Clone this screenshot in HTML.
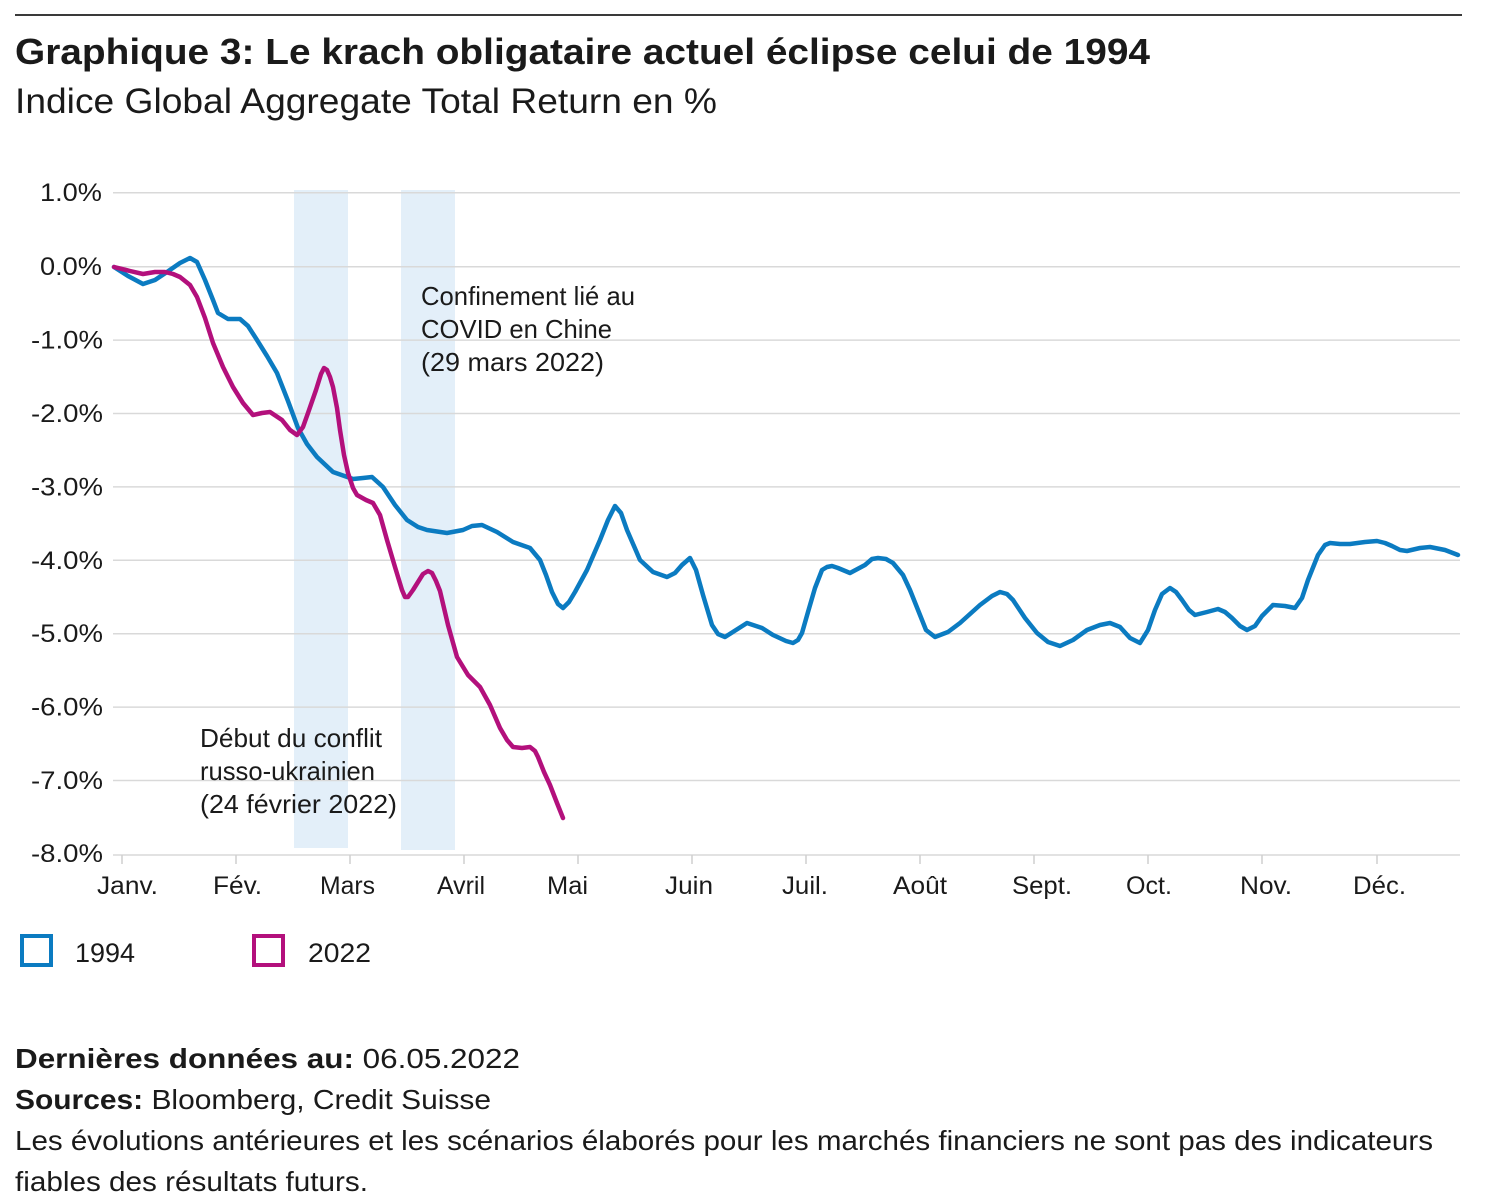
<!DOCTYPE html>
<html>
<head>
<meta charset="utf-8">
<style>
  html, body { margin: 0; padding: 0; background: #ffffff; }
  svg { display: block; }
  text { font-family: "Liberation Sans", Arial, sans-serif; fill: #1a1a1a; }
</style>
</head>
<body>
<svg width="1512" height="1200" viewBox="0 0 1512 1200" xmlns="http://www.w3.org/2000/svg">
  <rect x="0" y="0" width="1512" height="1200" fill="#ffffff"/>

  <!-- top rule -->
  <line x1="15" y1="15" x2="1462" y2="15" stroke="#3a3a3a" stroke-width="2"/>

  <!-- title + subtitle -->
  <text x="15" y="64" font-size="36" font-weight="bold" textLength="1135" lengthAdjust="spacingAndGlyphs">Graphique 3: Le krach obligataire actuel éclipse celui de 1994</text>
  <text x="15" y="113" font-size="35" textLength="702" lengthAdjust="spacingAndGlyphs">Indice Global Aggregate Total Return en %</text>

  <!-- shaded bands -->
  <rect x="294" y="190" width="54" height="658" fill="#e3eff9"/>
  <rect x="401" y="190" width="54" height="660" fill="#e3eff9"/>

  <!-- gridlines -->
  <g stroke="#d9d9d9" stroke-width="1.5">
    <line x1="113" y1="192.7" x2="1460" y2="192.7"/>
    <line x1="113" y1="266.7" x2="1460" y2="266.7"/>
    <line x1="113" y1="340.1" x2="1460" y2="340.1"/>
    <line x1="113" y1="413.5" x2="1460" y2="413.5"/>
    <line x1="113" y1="486.9" x2="1460" y2="486.9"/>
    <line x1="113" y1="560.3" x2="1460" y2="560.3"/>
    <line x1="113" y1="633.7" x2="1460" y2="633.7"/>
    <line x1="113" y1="707.1" x2="1460" y2="707.1"/>
    <line x1="113" y1="780.5" x2="1460" y2="780.5"/>
    <line x1="113" y1="855" x2="1460" y2="855"/>
  </g>
  <!-- ticks -->
  <g stroke="#cfcfcf" stroke-width="1.5">
    <line x1="122" y1="855" x2="122" y2="864"/>
    <line x1="236" y1="855" x2="236" y2="864"/>
    <line x1="350" y1="855" x2="350" y2="864"/>
    <line x1="464" y1="855" x2="464" y2="864"/>
    <line x1="578" y1="855" x2="578" y2="864"/>
    <line x1="692" y1="855" x2="692" y2="864"/>
    <line x1="806" y1="855" x2="806" y2="864"/>
    <line x1="920" y1="855" x2="920" y2="864"/>
    <line x1="1034" y1="855" x2="1034" y2="864"/>
    <line x1="1148" y1="855" x2="1148" y2="864"/>
    <line x1="1262" y1="855" x2="1262" y2="864"/>
    <line x1="1377" y1="855" x2="1377" y2="864"/>
  </g>

  <!-- y labels -->
  <g font-size="25" text-anchor="end">
    <text x="102" y="201" textLength="62" lengthAdjust="spacingAndGlyphs">1.0%</text>
    <text x="102" y="275" textLength="62" lengthAdjust="spacingAndGlyphs">0.0%</text>
    <text x="103" y="348.5" textLength="72" lengthAdjust="spacingAndGlyphs">-1.0%</text>
    <text x="103" y="422" textLength="72" lengthAdjust="spacingAndGlyphs">-2.0%</text>
    <text x="103" y="495.5" textLength="72" lengthAdjust="spacingAndGlyphs">-3.0%</text>
    <text x="103" y="569" textLength="72" lengthAdjust="spacingAndGlyphs">-4.0%</text>
    <text x="103" y="642" textLength="72" lengthAdjust="spacingAndGlyphs">-5.0%</text>
    <text x="103" y="715.5" textLength="72" lengthAdjust="spacingAndGlyphs">-6.0%</text>
    <text x="103" y="789" textLength="72" lengthAdjust="spacingAndGlyphs">-7.0%</text>
    <text x="103" y="862" textLength="72" lengthAdjust="spacingAndGlyphs">-8.0%</text>
  </g>

  <!-- x labels -->
  <g font-size="25">
    <text x="97" y="894" textLength="61" lengthAdjust="spacingAndGlyphs">Janv.</text>
    <text x="213" y="894" textLength="49" lengthAdjust="spacingAndGlyphs">Fév.</text>
    <text x="320" y="894" textLength="55" lengthAdjust="spacingAndGlyphs">Mars</text>
    <text x="437" y="894" textLength="48" lengthAdjust="spacingAndGlyphs">Avril</text>
    <text x="547" y="894" textLength="41" lengthAdjust="spacingAndGlyphs">Mai</text>
    <text x="665" y="894" textLength="48" lengthAdjust="spacingAndGlyphs">Juin</text>
    <text x="782" y="894" textLength="46" lengthAdjust="spacingAndGlyphs">Juil.</text>
    <text x="893" y="894" textLength="54" lengthAdjust="spacingAndGlyphs">Août</text>
    <text x="1012" y="894" textLength="60" lengthAdjust="spacingAndGlyphs">Sept.</text>
    <text x="1126" y="894" textLength="46" lengthAdjust="spacingAndGlyphs">Oct.</text>
    <text x="1240" y="894" textLength="52" lengthAdjust="spacingAndGlyphs">Nov.</text>
    <text x="1353" y="894" textLength="53" lengthAdjust="spacingAndGlyphs">Déc.</text>
  </g>

  <!-- annotations -->
  <g font-size="26">
    <text x="421" y="305" textLength="214" lengthAdjust="spacingAndGlyphs">Confinement lié au</text>
    <text x="421" y="338" textLength="191" lengthAdjust="spacingAndGlyphs">COVID en Chine</text>
    <text x="421" y="371" textLength="183" lengthAdjust="spacingAndGlyphs">(29 mars 2022)</text>
    <text x="200" y="747" textLength="182" lengthAdjust="spacingAndGlyphs">Début du conflit</text>
    <text x="200" y="780" textLength="175" lengthAdjust="spacingAndGlyphs">russo-ukrainien</text>
    <text x="200" y="813" textLength="197" lengthAdjust="spacingAndGlyphs">(24 février 2022)</text>
  </g>

  <!-- 1994 series -->
  <polyline fill="none" stroke="#0b7bc1" stroke-width="4.5" stroke-linejoin="round" stroke-linecap="round"
    points="114,267 128,276 143,284 155,280 167,272 180,263 190,258 197,262 205,280 213,300 218,313 228,319 240,319 248,326 257,340 267,356 277,373 288,401 298,428 307,444 317,457 333,472 353,479 363,478 372,477 383,487 395,505 407,520 418,527 427,530 447,533 463,530 472,526 482,525 497,532 513,542 530,548 540,560 546,575 552,592 558,604 563,608 569,602 575,592 587,570 600,540 608,520 615,506 621,513 627,530 640,560 653,572 667,577 675,573 682,565 690,558 696,570 703,595 712,625 718,634 725,637 736,630 747,623 762,628 773,635 786,641 793,643 798,640 802,633 808,612 815,588 822,570 827,567 832,566 838,568 850,573 865,565 872,559 878,558 886,559 893,563 903,575 910,590 918,610 926,630 935,637 948,632 960,623 980,605 992,596 1000,592 1007,594 1013,600 1025,618 1037,633 1048,642 1060,646 1073,640 1087,630 1100,625 1110,623 1120,627 1130,638 1140,643 1148,630 1155,610 1162,594 1170,588 1176,592 1182,600 1189,610 1195,615 1207,612 1218,609 1225,612 1232,618 1240,626 1247,630 1255,626 1262,616 1273,605 1285,606 1295,608 1302,598 1308,580 1318,555 1325,545 1330,543 1340,544 1350,544 1365,542 1377,541 1385,543 1392,546 1400,550 1407,551 1420,548 1430,547 1445,550 1458,555"/>

  <!-- 2022 series -->
  <polyline fill="none" stroke="#b3107c" stroke-width="4.5" stroke-linejoin="round" stroke-linecap="round"
    points="114,267 130,271 143,274 155,272 165,272 173,274 180,277 190,285 197,297 205,318 213,343 223,367 233,387 243,403 253,415 262,413 270,412 282,420 290,430 297,435 303,427 308,413 316,390 321,374 324,368 327,370 330,377 333,387 337,408 340,430 344,455 348,473 353,488 357,495 366,500 373,503 380,515 387,540 395,567 402,590 405,597 408,597 413,590 418,582 423,574 428,571 432,573 436,581 440,591 448,625 457,657 468,675 480,687 490,705 500,728 507,740 513,747 522,748 530,747 535,751 538,757 544,772 550,785 557,803 563,818"/>

  <!-- legend -->
  <rect x="22" y="936" width="29" height="29" fill="none" stroke="#0b7bc1" stroke-width="4"/>
  <text x="75" y="962" font-size="27" textLength="60" lengthAdjust="spacingAndGlyphs">1994</text>
  <rect x="254" y="936" width="29" height="29" fill="none" stroke="#b3107c" stroke-width="4"/>
  <text x="308" y="962" font-size="27" textLength="63" lengthAdjust="spacingAndGlyphs">2022</text>

  <!-- footer -->
  <text x="15" y="1068" font-size="28" textLength="505" lengthAdjust="spacingAndGlyphs"><tspan font-weight="bold">Dernières données au:</tspan> 06.05.2022</text>
  <text x="15" y="1109" font-size="28" textLength="476" lengthAdjust="spacingAndGlyphs"><tspan font-weight="bold">Sources:</tspan> Bloomberg, Credit Suisse</text>
  <text x="15" y="1150" font-size="28" textLength="1418" lengthAdjust="spacingAndGlyphs">Les évolutions antérieures et les scénarios élaborés pour les marchés financiers ne sont pas des indicateurs</text>
  <text x="15" y="1191" font-size="28" textLength="353" lengthAdjust="spacingAndGlyphs">fiables des résultats futurs.</text>
</svg>
</body>
</html>
